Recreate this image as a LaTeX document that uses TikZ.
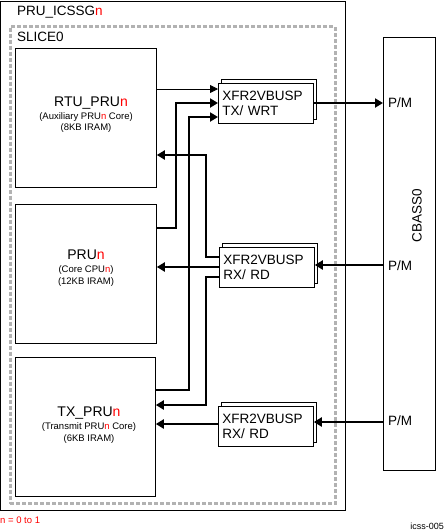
\documentclass[tikz,border=0pt]{standalone}
\usepackage{fontspec}
\setmainfont{Liberation Sans}
\usetikzlibrary{arrows.meta,shadows}
\definecolor{dashgray}{RGB}{178,178,178}
\begin{document}
\begin{tikzpicture}[x=1pt,y=-1pt,
  frame/.style={draw=black,line width=0.8pt},
  corebox/.style={draw=black,line width=0.8pt,fill=white,minimum width=#1,minimum height=139pt,inner sep=0pt},
  corebox/.default=141pt,
  xfr/.style={draw=black,line width=0.8pt,fill=white,minimum height=40pt,inner ysep=0pt,inner xsep=4pt,
    text width=87pt,align=left,font=\fontsize{13.5}{15}\selectfont,
    general shadow={shadow xshift=2.5pt,shadow yshift=4.5pt,fill=white,draw=black,line width=0.8pt}},
  big/.style={font=\fontsize{14}{15}\selectfont,inner sep=0pt},
  small/.style={font=\fontsize{9.5}{11}\selectfont,inner sep=0pt},
  lbl/.style={font=\fontsize{13.5}{15}\selectfont,inner sep=0pt},
  thinarr/.style={line width=0.8pt,-{Triangle[length=8pt,width=8pt]}},
  thickarr/.style={line width=2.6pt,-{Triangle[length=8pt,width=9pt]}},
]
\useasboundingbox (0,0) rectangle (446,531);
% outer frame
\node[frame,minimum width=344.5pt,minimum height=509.5pt,inner sep=0pt,anchor=north west] (outer) at (0.5,0.5) {};
\node[lbl,anchor=west] (outerlbl) at (17,12) {PRU\_ICSSG\textcolor{red}{n}};
% slice
\node[draw=dashgray,line width=3.2pt,dash pattern=on 4pt off 2pt,minimum width=325pt,minimum height=477pt,inner sep=0pt,anchor=north west] (slice) at (8.5,25) {};
\node[lbl,anchor=west] (slicelbl) at (17,37) {SLICE0};
% cores
\node[corebox,anchor=north west] (RTU) at (15,48) {};
\node[big] (rtu1) at (91,103) {RTU\_PRU\textcolor{red}{n}};
\node[small] (rtu2) at (86,117) {(Auxiliary PRU\textcolor{red}{n} Core)};
\node[small] (rtu3) at (86,128.5) {(8KB IRAM)};
\node[corebox,anchor=north west] (PRU) at (15,204) {};
\node[big] (pru1) at (86,255) {PRU\textcolor{red}{n}};
\node[small] (pru2) at (86,270) {(Core CPU\textcolor{red}{n})};
\node[small] (pru3) at (86,282) {(12KB IRAM)};
\node[corebox=140pt,anchor=north west] (TXP) at (15,357) {};
\node[big] (txp1) at (89,413) {TX\_PRU\textcolor{red}{n}};
\node[small] (txp2) at (89,427) {(Transmit PRU\textcolor{red}{n} Core)};
\node[small] (txp3) at (89,439) {(6KB IRAM)};
% xfr blocks
\node[xfr,anchor=north west] (XT) at (218,83) {XFR2VBUSP\\TX/ WRT};
\node[xfr,anchor=north west] (XR1) at (219,247) {XFR2VBUSP\\RX/ RD};
\node[xfr,anchor=north west] (XR2) at (218,406) {XFR2VBUSP\\RX/ RD};
% CBASS
\node[frame,minimum width=52pt,minimum height=433pt,inner sep=0pt,anchor=north west] (CB) at (383,37) {};
\node[lbl,rotate=90] (cblbl) at (417,216) {CBASS0};
\node[lbl,anchor=west] (pm1) at (388,103) {P/M};
\node[lbl,anchor=west] (pm2) at (388,266) {P/M};
\node[lbl,anchor=west] (pm3) at (388,421) {P/M};
% notes
\node[font=\fontsize{9.5}{11}\selectfont,text=red,inner sep=0pt,anchor=west] (note) at (0,520) {n = 0 to 1};
\node[font=\fontsize{9}{11}\selectfont,inner sep=0pt,anchor=east] (fig) at (444,526) {icss-005};
% connectors
\coordinate (b1) at (176,103);
\coordinate (b2) at (189,117);
\coordinate (b3) at (206,155);
\coordinate (b4) at (206,277);
\draw[thinarr] (RTU.east |- 0,89) -- (XT.west |- 0,89);
\draw[thickarr] (PRU.east |- 0,228) -| (b1) -- (XT.west |- b1);
\draw[thickarr] (TXP.east |- 0,390) -| (b2) -- (XT.west |- b2);
\draw[thickarr] (XR1.west |- 0,257) -| (b3) -- (RTU.east |- b3);
\draw[thickarr] (XR1.west |- 0,267) -- (PRU.east |- 0,267);
\draw[thickarr] (XR1.west |- b4) -- (b4) |- (TXP.east |- 0,405);
\draw[thickarr] (XR2.west |- 0,424) -- (TXP.east |- 0,424);
\draw[thickarr] (XT.east |- 0,103) -- (CB.west |- 0,103);
\draw[thickarr] (CB.west |- 0,265) -- (XR1.east |- 0,265);
\draw[thickarr] (CB.west |- 0,422) -- (XR2.east |- 0,422);
\end{tikzpicture}
\end{document}
